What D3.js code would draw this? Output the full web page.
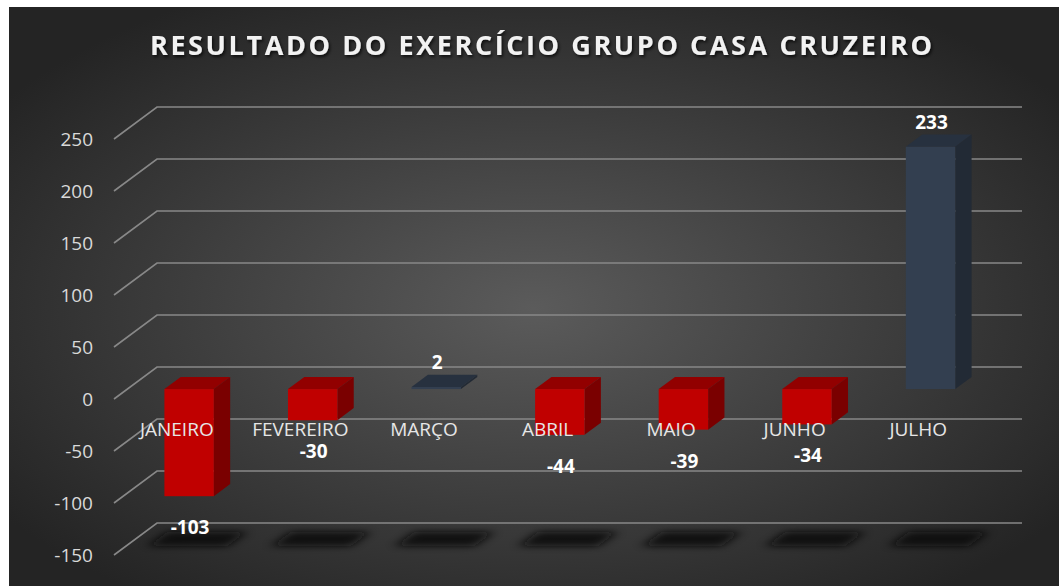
<!DOCTYPE html>
<html>
<head>
<meta charset="utf-8">
<script src="https://cdnjs.cloudflare.com/ajax/libs/d3/7.8.5/d3.min.js"></script>
<style>
body{margin:0;background:#fff}
svg{display:block}
</style>
</head>
<body>
<div id="chart"></div>
<script>
var months = ["JANEIRO","FEVEREIRO","MARÇO","ABRIL","MAIO","JUNHO","JULHO"]
var values = [-103,-30,2,-44,-39,-34,233]
var tickValues = [-150,-100,-50,0,50,100,150,200,250]
var title = "RESULTADO DO EXERCÍCIO GRUPO CASA CRUZEIRO"

var width = 1059, height = 586

// depth of the 3d box and where the bars sit in it
var depthX = 43, depthY = -32
var barFront = 0.31, barBack = 0.69

var red = {front:"#c00000", top:"#920000", side:"#7a0000"}
var blue = {front:"#333f50", top:"#27313f", side:"#222a35"}

var svg = d3.select("#chart").append("svg")
    .attr("width", width)
    .attr("height", height)

var defs = svg.append("defs")
var grad = defs.append("radialGradient").attr("id","bg")
    .attr("cx","50%").attr("cy","52%").attr("r","62%")
grad.append("stop").attr("offset","0%").attr("stop-color","#5b5b5b")
grad.append("stop").attr("offset","100%").attr("stop-color","#242424")

defs.append("filter").attr("id","blur")
    .attr("x","-30%").attr("y","-80%").attr("width","160%").attr("height","260%")
  .append("feGaussianBlur").attr("stdDeviation","6 3")

var ts = defs.append("filter").attr("id","tshadow")
ts.append("feDropShadow").attr("dx",1.5).attr("dy",2).attr("stdDeviation",1.5)
    .attr("flood-color","#000").attr("flood-opacity",0.7)

svg.append("rect")
    .attr("x",9).attr("y",7)
    .attr("width",width-9).attr("height",height-7)
    .attr("fill","url(#bg)")

// scales on the front plane
var y = d3.scaleLinear().domain([-150,250]).range([555,139])
var x = d3.scaleBand().domain(months).range([114,979]).padding(0)
var barW = x.bandwidth()*0.4

function px(xv, d){ return xv + d*depthX }
function py(v, d){ return y(v) + d*depthY }

// title
svg.append("text")
    .text(title)
    .attr("x",541).attr("y",55)
    .attr("text-anchor","middle")
    .attr("textLength",782)
    .attr("lengthAdjust","spacing")
    .attr("font-family","'Open Sans', sans-serif")
    .attr("font-weight","bold")
    .attr("font-size","27px")
    .attr("fill","#f2f2f2")
    .attr("filter","url(#tshadow)")

// gridlines: diagonal on side wall then across back wall
svg.selectAll(".grid")
    .data(tickValues)
    .enter()
    .append("path")
    .attr("class","grid")
    .attr("d",function(v){
        return "M"+x.range()[0]+","+y(v)+
            "L"+px(x.range()[0],1)+","+py(v,1)+
            "L"+px(x.range()[1],1)+","+py(v,1)
    })
    .attr("fill","none")
    .attr("stroke","#888888")
    .attr("stroke-width",1.6)

// y axis labels
svg.selectAll(".ytick")
    .data(tickValues)
    .enter()
    .append("text")
    .attr("class","ytick")
    .text(function(v){return v})
    .attr("x",93)
    .attr("y",function(v){return y(v)+7})
    .attr("text-anchor","end")
    .attr("font-family","'Open Sans', sans-serif")
    .attr("font-size","19px")
    .attr("fill","#d9d9d9")

var bars = months.map(function(m,i){
    var x0 = x(m) + (x.bandwidth()-barW)/2
    return {name:m, value:values[i], x0:x0, x1:x0+barW}
})

// shadows on the floor
svg.selectAll(".shadow")
    .data(bars)
    .enter()
    .append("path")
    .attr("class","shadow")
    .attr("d",function(d){
        var f = -150, a = 0.27, b = 0.73, e = 15
        return "M"+px(d.x0-e,a)+","+py(f,a)+
            "L"+px(d.x1+e,a)+","+py(f,a)+
            "L"+px(d.x1+e,b)+","+py(f,b)+
            "L"+px(d.x0-e,b)+","+py(f,b)+"Z"
    })
    .attr("fill","#0a0a0a")
    .attr("opacity",0.9)
    .attr("filter","url(#blur)")

// bars: top, side, front
var g = svg.selectAll(".bar")
    .data(bars)
    .enter()
    .append("g")
    .attr("class","bar")

function col(d){ return d.value<0 ? red : blue }
function topV(d){ return Math.max(0,d.value) }
function botV(d){ return Math.min(0,d.value) }

g.append("path")
    .attr("d",function(d){
        var t = topV(d)
        return "M"+px(d.x0,barFront)+","+py(t,barFront)+
            "L"+px(d.x1,barFront)+","+py(t,barFront)+
            "L"+px(d.x1,barBack)+","+py(t,barBack)+
            "L"+px(d.x0,barBack)+","+py(t,barBack)+"Z"
    })
    .attr("fill",function(d){return col(d).top})

g.append("path")
    .attr("d",function(d){
        var t = topV(d), b = botV(d)
        return "M"+px(d.x1,barFront)+","+py(t,barFront)+
            "L"+px(d.x1,barBack)+","+py(t,barBack)+
            "L"+px(d.x1,barBack)+","+py(b,barBack)+
            "L"+px(d.x1,barFront)+","+py(b,barFront)+"Z"
    })
    .attr("fill",function(d){return col(d).side})

g.append("rect")
    .attr("x",function(d){return px(d.x0,barFront)})
    .attr("y",function(d){return py(topV(d),barFront)})
    .attr("width",barW)
    .attr("height",function(d){return py(botV(d),barFront)-py(topV(d),barFront)})
    .attr("fill",function(d){return col(d).front})

// category labels
svg.selectAll(".xlabel")
    .data(months)
    .enter()
    .append("text")
    .attr("class","xlabel")
    .text(function(d){return d})
    .attr("x",function(d){return x(d)+x.bandwidth()/2+1})
    .attr("y",y(0)+37)
    .attr("text-anchor","middle")
    .attr("font-family","'Open Sans', sans-serif")
    .attr("font-size","19px")
    .attr("fill","#e6e6e6")

// data labels
svg.selectAll(".vlabel")
    .data(bars)
    .enter()
    .append("text")
    .attr("class","vlabel")
    .text(function(d){return d.value})
    .attr("x",function(d){return px(d.x0,barFront)+barW/2+1})
    .attr("y",function(d){
        if(d.value<0) return py(d.value,barFront)+38
        return py(d.value,barFront)-18
    })
    .attr("text-anchor","middle")
    .attr("font-family","'Open Sans', sans-serif")
    .attr("font-weight","bold")
    .attr("font-size","19px")
    .attr("fill","#ffffff")
</script>
</body>
</html>
